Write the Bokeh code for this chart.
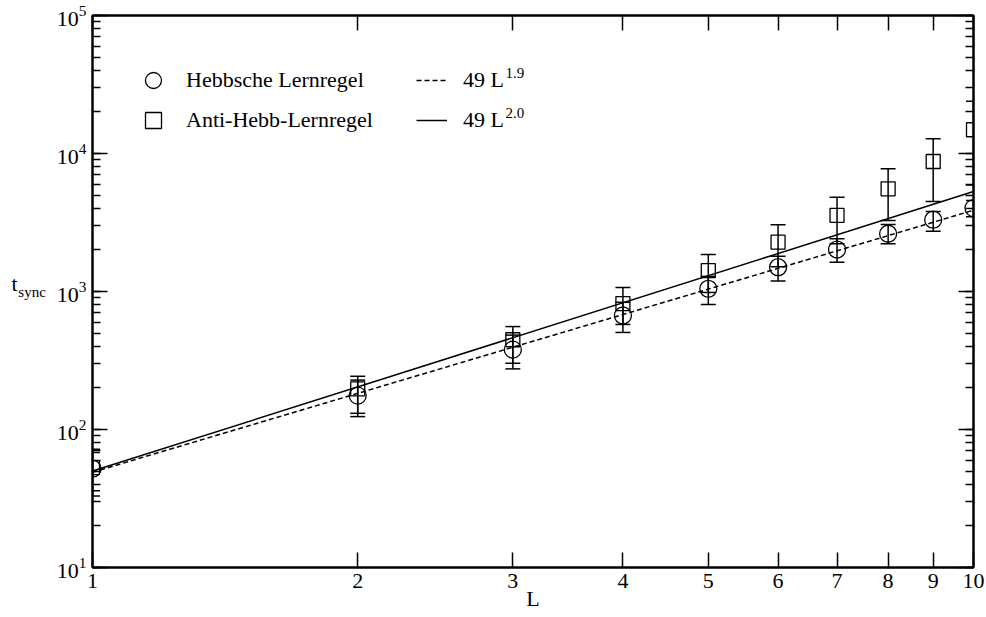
from bokeh.plotting import figure
from bokeh.models import (LogAxis, FixedTicker, LogTicker, PrintfTickFormatter,
                          Legend, LegendItem, Label)
from bokeh.embed import file_html
from bokeh.resources import INLINE

# ---------------- data ----------------
L = [1, 2, 3, 4, 5, 6, 7, 8, 9, 10]

hebb = [52, 176, 379, 670, 1046, 1500, 2014, 2620, 3313, 4020]
hebb_lo = [36, 124, 275, 505, 805, 1189, 1631, 2218, 2735, 3480]
hebb_hi = [68, 228, 483, 835, 1287, 1803, 2410, 3061, 3802, 4560]

anti = [53, 197, 447, 818, 1419, 2276, 3556, 5545, 8750, 14860]
anti_lo = [33, 131, 302, 577, 984, 1511, 2218, 3265, 4487, 5900]
anti_hi = [72, 243, 557, 1069, 1854, 3041, 4819, 7745, 12800, 23900]

fit_L = [1, 10]
fit_19 = [49, 3880]
fit_20 = [50, 5300]

x_ticks = [1, 2, 3, 4, 5, 6, 7, 8, 9, 10]

FONT = "Liberation Serif"

p = figure(width=986, height=617, x_axis_type="log", y_axis_type="log",
           x_range=(1, 10), y_range=(10, 1e5),
           output_backend="svg", toolbar_location=None,
           min_border_left=92, min_border_right=13, min_border_top=15, min_border_bottom=50)
p.grid.visible = False
p.outline_line_color = "black"
p.outline_line_width = 2
p.background_fill_color = "white"
p.border_fill_color = "white"

# fit lines
r_dash = p.line(fit_L, fit_19, line_dash="5 3", line_width=1.5, line_color="black")
r_solid = p.line(fit_L, fit_20, line_width=1.5, line_color="black")

# error bars
p.segment(x0=L, y0=hebb_lo, x1=L, y1=hebb_hi, line_width=1.5, line_color="black")
p.segment(x0=L, y0=anti_lo, x1=L, y1=anti_hi, line_width=1.5, line_color="black")
p.scatter(x=L + L, y=hebb_lo + hebb_hi, marker="dash", size=15, line_width=1.5, line_color="black")
p.scatter(x=L + L, y=anti_lo + anti_hi, marker="dash", size=15, line_width=1.5, line_color="black")

# markers
r_circ = p.scatter(L, hebb, marker="circle", size=17, fill_color=None,
                   line_color="black", line_width=1.3)
r_sq = p.scatter(L, anti, marker="square", size=14, fill_color=None,
                 line_color="black", line_width=1.3)

# axes
xa = p.xaxis[0]
xa.ticker = FixedTicker(ticks=x_ticks, minor_ticks=[])
xa.formatter = PrintfTickFormatter(format="%d")
xa.axis_label = "L"
xa.axis_label_standoff = -5
xa.axis_label_text_font = FONT
xa.axis_label_text_font_size = "22px"
xa.axis_label_text_font_style = "normal"
xa.axis_label_text_color = "black"

ya = p.yaxis[0]
ya.ticker = LogTicker(num_minor_ticks=10)
ya.axis_label = "sync"
ya.axis_label_orientation = "horizontal"
ya.axis_label_standoff = 8
ya.axis_label_text_font = FONT
ya.axis_label_text_font_size = "15px"
ya.axis_label_text_font_style = "normal"
ya.axis_label_text_color = "black"

top = LogAxis(ticker=FixedTicker(ticks=x_ticks, minor_ticks=[]),
              formatter=PrintfTickFormatter(format="%d"))
right = LogAxis(ticker=LogTicker(num_minor_ticks=10),
                formatter=PrintfTickFormatter(format="%d"))
p.add_layout(top, "above")
p.add_layout(right, "right")

for ax in (xa, ya, top, right):
    ax.axis_line_width = 2
    ax.axis_line_color = "black"
    ax.major_tick_in = 15
    ax.major_tick_out = 0
    ax.minor_tick_in = 8
    ax.minor_tick_out = 0
    ax.major_tick_line_width = 1.5
    ax.minor_tick_line_width = 1.5
    ax.major_tick_line_color = "black"
    ax.minor_tick_line_color = "black"
    ax.major_label_text_font = FONT
    ax.major_label_text_font_size = "22px"
    ax.major_label_text_color = "black"
    ax.major_label_standoff = 6

for ax in (top, right):
    ax.major_label_text_font_size = "1px"
    ax.major_label_text_alpha = 0
    ax.major_label_standoff = 0

# outer left axis carrying only the "t" of t_sync (second blank line lifts it up)
tax = LogAxis(ticker=LogTicker(num_minor_ticks=10),
              formatter=PrintfTickFormatter(format="%d"),
              axis_line_color=None, major_tick_line_color=None, minor_tick_line_color=None,
              major_label_text_font_size="1px", major_label_text_alpha=0,
              major_label_standoff=0, major_tick_in=0, major_tick_out=0,
              minor_tick_in=0, minor_tick_out=0,
              axis_label="t\n ", axis_label_orientation="horizontal",
              axis_label_standoff=-2, axis_label_text_font=FONT,
              axis_label_text_font_size="22px", axis_label_text_font_style="normal",
              axis_label_text_line_height=0.62,
              axis_label_text_color="black")
p.add_layout(tax, "left")

# legends
legA = Legend(items=[LegendItem(label="Hebbsche Lernregel", renderers=[r_circ]),
                     LegendItem(label="Anti-Hebb-Lernregel", renderers=[r_sq])],
              location=(41, 427), glyph_width=40, glyph_height=40, spacing=0,
              padding=0, margin=0, label_standoff=13,
              label_text_font=FONT, label_text_font_size="22px", label_text_color="black",
              background_fill_alpha=0, border_line_alpha=0)
legB = Legend(items=[LegendItem(label="49 L", renderers=[r_dash]),
                     LegendItem(label="49 L", renderers=[r_solid])],
              location=(324, 427), glyph_width=31, glyph_height=40, spacing=0,
              padding=0, margin=0, label_standoff=16,
              label_text_font=FONT, label_text_font_size="22px", label_text_color="black",
              background_fill_alpha=0, border_line_alpha=0)
p.add_layout(legA)
p.add_layout(legB)

def lab(text, x, y, size, align="left"):
    p.add_layout(Label(x=x, y=y, x_units="screen", y_units="screen", text=text,
                       text_font=FONT, text_font_size=size, text_color="black",
                       text_baseline="alphabetic", text_align=align))

lab("1.9", 413, 495, "15px")
lab("2.0", 413, 455, "15px")

open("out.html", "w").write(file_html(p, INLINE))
